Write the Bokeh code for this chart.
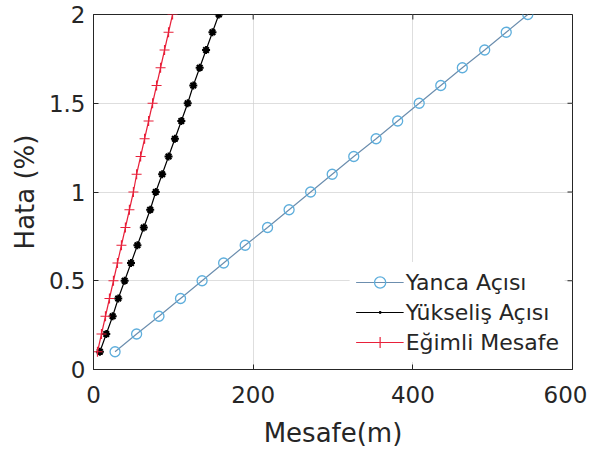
import math
from bokeh.plotting import figure
from bokeh.models import Range1d, FixedTicker, Legend, LegendItem
from bokeh.embed import file_html
from bokeh.resources import INLINE

hata = [0.1, 0.2, 0.3, 0.4, 0.5, 0.6, 0.7, 0.8, 0.9, 1.0,
        1.1, 1.2, 1.3, 1.4, 1.5, 1.6, 1.7, 1.8, 1.9, 2.0]
yanca = [27, 54, 82, 109, 136, 163, 190, 218, 245, 272,
         299, 326, 354, 381, 408, 435, 462, 490, 517, 544]
yukselis = [8, 16, 24, 31, 39, 47, 55, 63, 71, 78,
            86, 94, 102, 110, 118, 125, 133, 141, 149, 157]
egimli = [5, 10, 15, 20, 25, 30, 35, 40, 45, 50,
          54, 59, 64, 69, 74, 79, 84, 89, 94, 99]
x_ticks = [0, 200, 400, 600]
y_ticks = [0, 0.5, 1, 1.5, 2]

FONT = "DejaVu Sans"
AX = "#262626"

p = figure(frame_width=479, frame_height=355, output_backend="svg",
           toolbar_location=None, x_range=Range1d(0, 600), y_range=Range1d(0, 2),
           min_border_left=93, min_border_right=15, min_border_top=14, min_border_bottom=80)
p.background_fill_color = "white"
p.border_fill_color = "white"
p.outline_line_color = AX
p.outline_line_width = 1

for ax in [p.xaxis[0], p.yaxis[0]]:
    ax.major_tick_in = 5
    ax.major_tick_out = 0
    ax.minor_tick_in = 0
    ax.minor_tick_out = 0
    ax.axis_line_color = AX
    ax.major_tick_line_color = AX
    ax.major_label_text_color = AX
    ax.major_label_text_font = FONT
    ax.major_label_text_font_size = "23px"
    ax.axis_label_text_font = FONT
    ax.axis_label_text_font_size = "26px"
    ax.axis_label_text_font_style = "normal"
    ax.axis_label_text_color = AX

p.xaxis[0].ticker = FixedTicker(ticks=x_ticks)
p.yaxis[0].ticker = FixedTicker(ticks=y_ticks)
p.xaxis[0].axis_label = "Mesafe(m)"
p.yaxis[0].axis_label = "Hata (%)"
p.xaxis[0].major_label_standoff = 16
p.xaxis[0].axis_label_standoff = 12
p.yaxis[0].major_label_standoff = 8
p.yaxis[0].axis_label_standoff = 6

# tick marks on the top and right edges of the box
p.ray(x=x_ticks, y=[y_ticks[-1]] * len(x_ticks), length=5, length_units="screen",
      angle=-math.pi / 2, line_color=AX, line_width=1)
p.ray(x=[x_ticks[-1]] * len(y_ticks), y=y_ticks, length=5, length_units="screen",
      angle=math.pi, line_color=AX, line_width=1)

p.xgrid.ticker = FixedTicker(ticks=x_ticks)
p.ygrid.ticker = FixedTicker(ticks=y_ticks)
p.grid.grid_line_color = "#d0d0d0"
p.grid.grid_line_alpha = 0.7

l1 = p.line(yanca, hata, line_color="#6C8EAE", line_width=1.2)
m1 = p.scatter(yanca, hata, marker="circle", size=10, fill_color=None,
               line_color="#5EAEDC", line_width=1.3)
l2 = p.line(yukselis, hata, line_color="black", line_width=1.2)
m2 = p.scatter(yukselis, hata, marker="asterisk", size=8, line_color="black", line_width=2)
m2b = p.scatter(yukselis, hata, marker="circle", size=4, fill_color="black", line_color="black")
m2leg = p.scatter(yukselis, hata, marker="dot", size=10, line_color="black", line_width=5,
                  fill_color="black")
l3 = p.line(egimli, hata, line_color="#E8203A", line_width=1.2)
m3 = p.scatter(egimli, hata, marker="cross", size=10, line_color="#E8203A", line_width=1.2)

legend = Legend(items=[
    LegendItem(label="Yanca Açısı", renderers=[l1, m1]),
    LegendItem(label="Yükseliş Açısı", renderers=[l2, m2leg]),
    LegendItem(label="Eğimli Mesafe", renderers=[l3, m3]),
], location="bottom_right")
legend.label_text_font = FONT
legend.label_text_font_size = "22px"
legend.label_text_color = AX
legend.label_height = 28
legend.glyph_height = 28
legend.glyph_width = 48
legend.label_standoff = 2
legend.spacing = 2
legend.padding = 6
legend.margin = 7
legend.border_line_alpha = 0
legend.background_fill_color = "white"
legend.background_fill_alpha = 1
p.add_layout(legend, "center")

open("out.html", "w").write(file_html(p, INLINE))
